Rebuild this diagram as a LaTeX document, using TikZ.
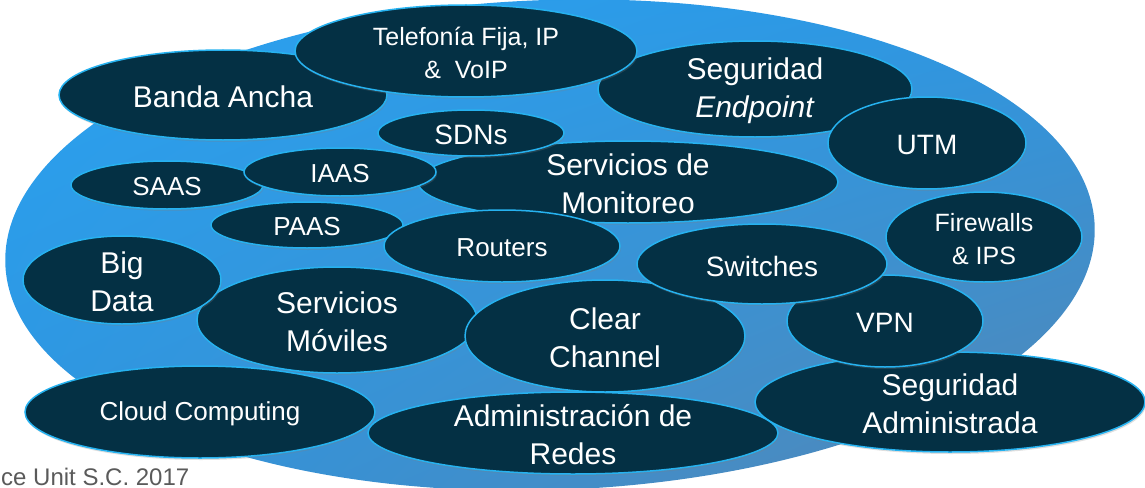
\documentclass[tikz,border=0pt]{standalone}
\usepackage{fontspec}
\setmainfont{Liberation Sans}
\usetikzlibrary{shapes.geometric,shadings,shadows}
\definecolor{bubfill}{RGB}{4,48,68}
\definecolor{bubline}{RGB}{38,178,240}
\definecolor{bgA}{RGB}{42,163,242}
\definecolor{bgB}{RGB}{44,150,226}
\definecolor{bgC}{RGB}{46,148,222}
\definecolor{bgD}{RGB}{86,134,178}
\definecolor{foot}{RGB}{90,90,90}
\tikzset{
  bub/.style={ellipse, draw=bubline, fill=bubfill, line width=1.5pt, inner sep=0pt,
    drop shadow={opacity=0.25, shadow xshift=1pt, shadow yshift=-2pt}},
  lbl/.style={text=white, align=center, inner sep=0pt, yshift=-2pt},
  fA/.style={font=\fontsize{30}{38}\selectfont},
  fB/.style={font=\fontsize{28}{36}\selectfont},
  fC/.style={font=\fontsize{26}{34}\selectfont},
  fD/.style={font=\fontsize{25}{33}\selectfont},
}
\newcommand{\bubble}[6]{%
  \node[bub, minimum width=#4pt, minimum height=#5pt] (#1) at (#2,#3) {};
  \node[lbl, #6] (#1T) at (#1) }
\begin{document}
\begin{tikzpicture}[x=1pt,y=-1pt]
\useasboundingbox (0,0) rectangle (1145,487);
% background
\shade[upper left=bgA, upper right=bgB, lower left=bgC, lower right=bgD,
  rotate around={2:(550,245)}] (550,245) ellipse [x radius=545pt, y radius=245pt];
% bubbles, back to front
\bubble{banda}{223}{95}{328}{90}{fA}{Banda Ancha};
\bubble{segend}{755}{89}{314}{96}{fA}{Seguridad\\\textit{Endpoint}};
\bubble{tel}{466}{51}{342}{92}{fD}{Telefonía Fija, IP\\\&\ \ VoIP};
\bubble{utm}{927}{143}{198}{92}{fB}{UTM};
\bubble{mon}{628}{182}{420}{82}{fA}{Servicios de\\Monitoreo};
\bubble{sdn}{471}{133}{186}{46}{fB}{SDNs};
\bubble{saas}{167}{185}{192}{48}{fC}{SAAS};
\bubble{iaas}{340}{172}{192}{48}{fC}{IAAS};
\bubble{paas}{307}{225}{192}{46}{fC}{PAAS};
\bubble{rout}{502}{246}{236}{72}{fC}{Routers};
\bubble{movil}{337}{320}{280}{106}{fA}{Servicios\\Móviles};
\bubble{big}{122}{280}{198}{88}{fA}{Big\\Data};
\bubble{clear}{605}{336}{280}{112}{fA}{Clear\\Channel};
\bubble{segadm}{950}{402}{390}{100}{fA}{Seguridad\\Administrada};
\bubble{vpn}{885}{321}{196}{92}{fB}{VPN};
\bubble{sw}{762}{264}{250}{80}{fB}{Switches};
\bubble{fw}{984}{237}{196}{90}{fD}{Firewalls\\\& IPS};
\bubble{cloud}{200}{412}{350}{92}{fC}{Cloud Computing};
\bubble{adm}{573}{433}{410}{82}{fA}{Administración de\\Redes};
% footer
\node[anchor=base west, inner sep=0pt, text=foot, font=\fontsize{24}{28}\selectfont] (foot) at (1,485) {ce Unit S.C. 2017};
\end{tikzpicture}
\end{document}
